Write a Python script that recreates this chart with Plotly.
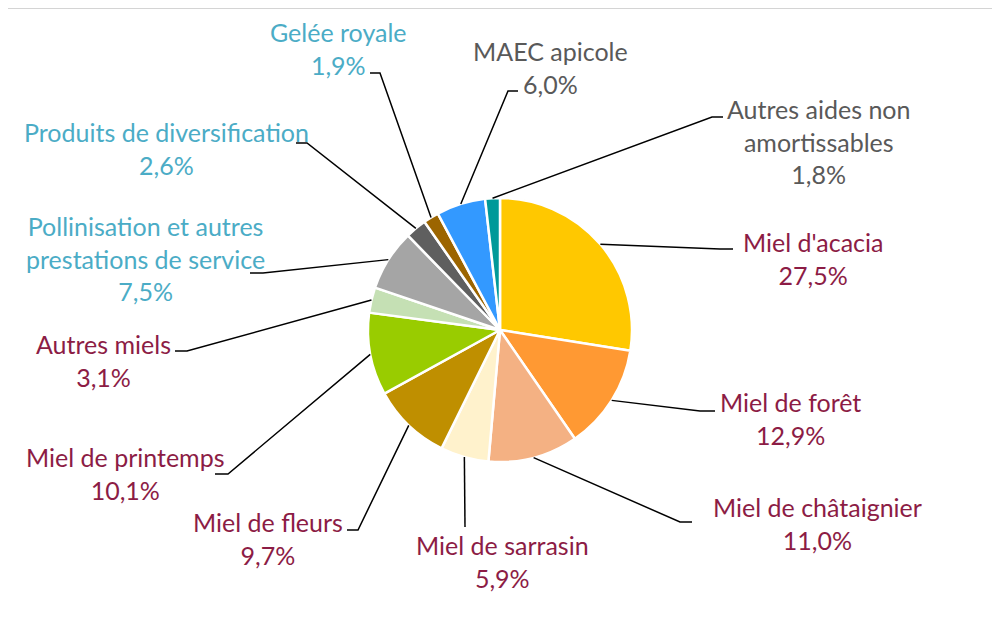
import math
import plotly.graph_objects as go

# ---- data ----
categories = [
    "Miel d'acacia", "Miel de forêt", "Miel de châtaignier", "Miel de sarrasin",
    "Miel de fleurs", "Miel de printemps", "Autres miels",
    "Pollinisation et autres prestations de service", "Produits de diversification",
    "Gelée royale", "MAEC apicole", "Autres aides non amortissables",
]
values = [27.5, 12.9, 11.0, 5.9, 9.7, 10.1, 3.1, 7.5, 2.6, 1.9, 6.0, 1.8]
label_texts = [
    "Miel d'acacia", "Miel de forêt", "Miel de châtaignier", "Miel de sarrasin",
    "Miel de fleurs", "Miel de printemps", "Autres miels",
    "Pollinisation et autres<br>prestations de service", "Produits de diversification",
    "Gelée royale", "MAEC apicole", "Autres aides non<br>amortissables",
]
groups = ["miel"] * 7 + ["div"] * 3 + ["aide"] * 2

# ---- styles ----
slice_colors = ["#FFC800", "#FF9933", "#F4B183", "#FFF2CC", "#BF8F00", "#99CC00",
                "#C5E0B4", "#A5A5A5", "#5F5F5F", "#9C6500", "#3399FF", "#009999"]
group_colors = {"miel": "#8C1C45", "div": "#4BACC6", "aide": "#595959"}

OFF = 8                       # page body margin
W, H = 1000 - OFF, 620 - OFF  # figure size
CX, CY, R = 500, 330, 132     # pie centre / radius in screen px

# label block centres (screen px) and leader elbow / end points (screen px)
label_pos = [(813, 258), (790, 419), (817, 523), (502, 561), (268, 538), (125, 473),
             (103, 360), (145, 258), (166, 149), (338, 49), (550, 68), (818, 141)]
elbows = [(720, 249), (700, 411), (680, 522), (465, 527), (358, 530), (228, 474),
          (187, 351), (263, 273), (307, 143), (380, 73), (508, 91), (712, 117)]
ends = [(733, 249), (715, 411), (692, 522), (465, 527), (347, 530), (215, 474),
        (175, 351), (250, 273), (296, 143), (370, 73), (518, 91), (723, 117)]


def px(x):
    return (x - OFF) / W


def py(y):
    return 1 - (y - OFF) / H


fig = go.Figure(go.Pie(
    labels=categories, values=values, sort=False, direction="clockwise", rotation=0,
    marker=dict(colors=slice_colors, line=dict(color="white", width=2.5)),
    textinfo="none", hoverinfo="label+percent", showlegend=False,
    domain=dict(x=[px(CX - R), px(CX + R)], y=[py(CY + R), py(CY - R)]),
))

total = sum(values)
cum = 0.0
shapes = []
annotations = []
for i, v in enumerate(values):
    mid = (cum + v / 2) / total * 2 * math.pi
    cum += v
    ex, ey = CX + R * math.sin(mid), CY - R * math.cos(mid)
    (bx, by), (qx, qy) = elbows[i], ends[i]
    path = f"M {px(ex)},{py(ey)} L {px(bx)},{py(by)} L {px(qx)},{py(qy)}"
    shapes.append(dict(type="path", xref="paper", yref="paper", path=path,
                       line=dict(color="black", width=1.5)))
    pct = f"{v:.1f}%".replace(".", ",")
    lx, ly = label_pos[i]
    annotations.append(dict(
        x=px(lx), y=py(ly), xref="paper", yref="paper", xanchor="center", yanchor="middle",
        text=f"{label_texts[i]}<br>{pct}", showarrow=False, align="center",
        font=dict(family="Lato", size=25, color=group_colors[groups[i]]),
    ))

# faint frame line at top of the screenshot
shapes.append(dict(type="line", xref="paper", yref="paper", x0=0, x1=1, y0=py(8), y1=py(8),
                   line=dict(color="#D4D4D4", width=2)))

fig.update_layout(
    width=W, height=H, margin=dict(l=0, r=0, t=0, b=0),
    paper_bgcolor="white", plot_bgcolor="white",
    shapes=shapes, annotations=annotations,
)
fig.write_html("out.html")
